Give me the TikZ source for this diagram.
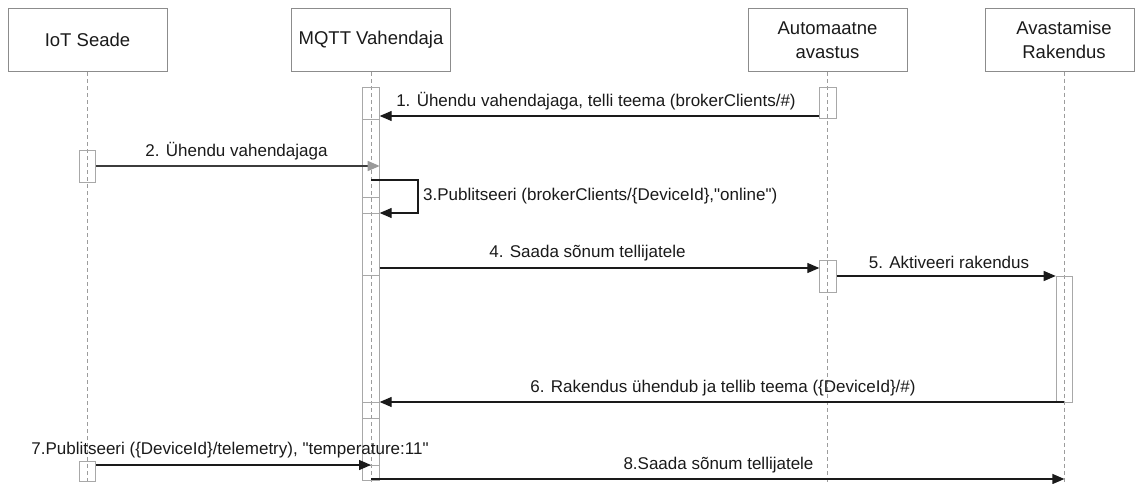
\documentclass[tikz,border=0pt]{standalone}
\usepackage{fontspec}
\setmainfont{Liberation Sans}[Ligatures=TeXOff]
\usetikzlibrary{arrows.meta}
\definecolor{ink}{HTML}{1A1A1A}
\definecolor{frame}{HTML}{8C8C8C}
\definecolor{barline}{HTML}{A8A8A8}
\definecolor{lifeline}{HTML}{9C9C9C}
\definecolor{softhead}{HTML}{9A9A9A}
\begin{document}
\begin{tikzpicture}[x=1pt,y=-1pt,
  head/.style={draw=frame, line width=0.9pt, minimum width=159pt, minimum height=63.5pt,
    inner sep=0pt, align=center, font=\fontsize{18.5}{24}\selectfont, text=ink},
  headtext/.style={inner sep=0pt, align=center, font=\fontsize{18.5}{24}\selectfont, text=ink},
  bar/.style={draw=barline, line width=0.9pt, minimum width=16.5pt, inner sep=0pt},
  life/.style={draw=lifeline, line width=0.9pt, dash pattern=on 4pt off 3pt},
  msg/.style={draw=ink, line width=1.3pt, -{Triangle[length=12pt,width=10pt]}},
  softmsg/.style={draw=ink!85, line width=1.3pt, -{Triangle[length=12pt,width=10pt,color=softhead]}},
  lbl/.style={inner sep=0pt, font=\fontsize{17}{20}\selectfont, text=ink},
  split/.style={draw=barline, line width=0.9pt}]
\useasboundingbox (0,0) rectangle (1135,484);

% participants
\node[head] (iot) at (87.5,40) {IoT Seade};
\node[head] (broker) at (371,40) {MQTT Vahendaja};
\node[head] (auto) at (827.5,40) {Automaatne\\avastus};
\node[head, minimum width=149pt] (app) at (1059.5,40) {};
\node[headtext] (apptext) at (1064,40) {Avastamise\\Rakendus};

% lifelines
\coordinate (bottom) at (0,484);
\coordinate (apptop) at (1064,71.75);
\draw[life] (iot.south) -- (iot.south |- bottom);
\draw[life] (broker.south) -- (broker.south |- bottom);
\draw[life] (auto.south) -- (auto.south |- bottom);
\draw[life] (apptop) -- (apptop |- bottom);

% activation bars
\node[bar, minimum height=393pt] (mq) at (371,283.5) {};
\node[bar, minimum height=31pt] (au1) at (828,102.5) {};
\node[bar, minimum height=32pt] (au2) at (828,276) {};
\node[bar, minimum height=126pt] (ap) at (1064.4,339) {};
\node[bar, minimum height=32pt] (io1) at (87.4,166) {};
\node[bar, minimum height=20pt] (io2) at (87.4,471) {};

% nested bar edges on the broker
\foreach \yy in {119,197,213,275,402,418,465}
  \draw[split] (mq.west |- 0,\yy) -- (mq.east |- 0,\yy);

% message rows
\coordinate (r1) at (0,116);
\coordinate (r2) at (0,166);
\coordinate (r3a) at (0,180);
\coordinate (r3b) at (0,213);
\coordinate (r4) at (0,268);
\coordinate (r5) at (0,276);
\coordinate (r6) at (0,402);
\coordinate (r7) at (0,465);
\coordinate (r8) at (0,479);
\coordinate (loopa) at (418,180);
\coordinate (loopb) at (418,213);

% 1
\draw[msg] (au1.west |- r1) -- (mq.east |- r1);
\node[lbl] (l1) at (596,101.5) {1. Ühendu vahendajaga, telli teema (brokerClients/\#)};
% 2
\draw[softmsg] (io1.east |- r2) -- (mq.east |- r2);
\node[lbl] (l2) at (236.5,151.5) {2. Ühendu vahendajaga};
% 3
\draw[msg] (mq.center |- r3a) -- (loopa) -- (loopb) -- (mq.east |- r3b);
\node[lbl, anchor=west] (l3) at (423,196) {3.Publitseeri (brokerClients/\{DeviceId\},"online")};
% 4
\draw[msg] (mq.east |- r4) -- (au2.west |- r4);
\node[lbl] (l4) at (587.5,253) {4. Saada sõnum tellijatele};
% 5
\draw[msg] (au2.east |- r5) -- (ap.west |- r5);
\node[lbl] (l5) at (949,262) {5. Aktiveeri rakendus};
% 6
\draw[msg] (ap.center |- r6) -- (mq.east |- r6);
\node[lbl] (l6) at (723,388) {6. Rakendus ühendub ja tellib teema (\{DeviceId\}/\#)};
% 7
\draw[msg] (io2.east |- r7) -- (mq.center |- r7);
\node[lbl] (l7) at (230,450) {7.Publitseeri (\{DeviceId\}/telemetry), "temperature:11"};
% 8
\draw[msg] (mq.center |- r8) -- (ap.center |- r8);
\node[lbl] (l8) at (718.5,465) {8.Saada sõnum tellijatele};
\end{tikzpicture}
\end{document}
